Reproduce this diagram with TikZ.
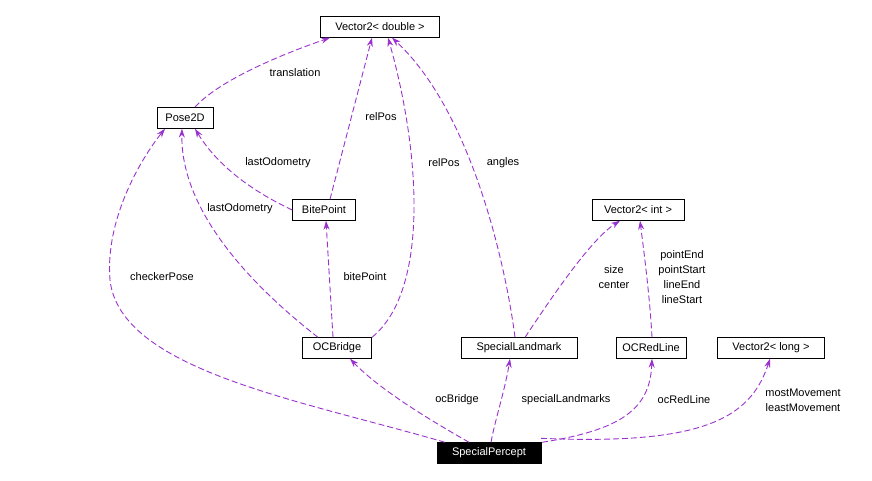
\documentclass[tikz,border=0pt]{standalone}
\usepackage{fontspec}
\setmainfont{Liberation Sans}
\usetikzlibrary{arrows.meta}
\definecolor{edge}{HTML}{9A32CD}
\begin{document}
\begin{tikzpicture}[x=1pt,y=-1pt,
  box/.style={draw=black,fill=white,inner sep=0pt,minimum height=21pt,font=\fontsize{11}{13}\selectfont},
  lbl/.style={font=\fontsize{11}{15}\selectfont,align=center},
  e/.style={draw=edge,line width=0.9pt,dash pattern=on 6pt off 3pt,-{Stealth[length=9pt,width=6pt,fill=edge]}}]
\useasboundingbox (0,0) rectangle (872,481);
\node[box,minimum width=119pt] (vd) at (380,27) {Vector2< double >};
\node[box,minimum width=56pt] (pose) at (185,118) {Pose2D};
\node[box,minimum width=63pt] (bite) at (324,210) {BitePoint};
\node[box,minimum width=92pt] (vi) at (638,210) {Vector2< int >};
\node[box,minimum width=69pt] (ocb) at (337,348) {OCBridge};
\node[box,minimum width=116pt] (sl) at (519,348) {SpecialLandmark};
\node[box,minimum width=70pt] (ocr) at (651,348) {OCRedLine};
\node[box,minimum width=107pt] (vl) at (771,348) {Vector2< long >};
\node[box,minimum width=104pt,fill=black,text=white] (sp) at (489,453) {SpecialPercept};

\coordinate (a1) at (195,107);
\draw[e] (a1) .. controls (220,80) and (280,55) .. ([xshift=-50pt]vd.south);
\draw[e] ([xshift=6pt]bite.north) -- ([xshift=-8pt]vd.south);
\draw[e] ([xshift=35pt]ocb.north) .. controls (430,290) and (420,150) .. ([xshift=8pt]vd.south);
\draw[e] ([xshift=-4pt]sl.north) .. controls (505,260) and (470,110) .. ([xshift=12pt]vd.south);
\draw[e] (bite.west) .. controls (260,195) and (220,170) .. ([xshift=10pt]pose.south);
\draw[e] ([xshift=-19pt]ocb.north) .. controls (270,300) and (180,220) .. ([xshift=-3pt]pose.south);
\draw[e] ([xshift=-44pt]sp.north) .. controls (300,400) and (120,370) .. (110,280) .. controls (105,220) and (140,160) .. ([xshift=-20pt]pose.south);
\draw[e] ([xshift=-4pt]ocb.north) -- ([xshift=2pt]bite.south);
\draw[e] ([xshift=6pt]sl.north) .. controls (550,300) and (590,240) .. ([xshift=-18pt]vi.south);
\draw[e] ([xshift=1pt]ocr.north) .. controls (650,300) and (645,260) .. ([xshift=2pt]vi.south);
\draw[e] ([xshift=-20pt]sp.north) .. controls (430,420) and (380,390) .. ([xshift=13pt]ocb.south);
\draw[e] ([xshift=2pt]sp.north) .. controls (495,420) and (505,390) .. ([xshift=-9pt]sl.south);
\draw[e] ([xshift=53pt]sp.north) .. controls (620,430) and (650,410) .. ([xshift=1pt]ocr.south);
\draw[e] ([xshift=52pt,yshift=4pt]sp.north) .. controls (700,445) and (750,420) .. ([xshift=-1pt]vl.south);

\node[lbl] (l1) at (295,73) {translation};
\node[lbl] (l2) at (381,117) {relPos};
\node[lbl] (l3) at (444,163) {relPos};
\node[lbl] (l4) at (503,163) {angles};
\node[lbl] (l5) at (278,163) {lastOdometry};
\node[lbl] (l6) at (240,209) {lastOdometry};
\node[lbl] (l7) at (162,277) {checkerPose};
\node[lbl] (l8) at (365,277) {bitePoint};
\node[lbl] (l9) at (614,277) {size\\center};
\node[lbl] (l10) at (682,277) {pointEnd\\pointStart\\lineEnd\\lineStart};
\node[lbl] (l11) at (457,400) {ocBridge};
\node[lbl] (l12) at (566,400) {specialLandmarks};
\node[lbl] (l13) at (684,400) {ocRedLine};
\node[lbl] (l14) at (803,400) {mostMovement\\leastMovement};
\end{tikzpicture}
\end{document}
